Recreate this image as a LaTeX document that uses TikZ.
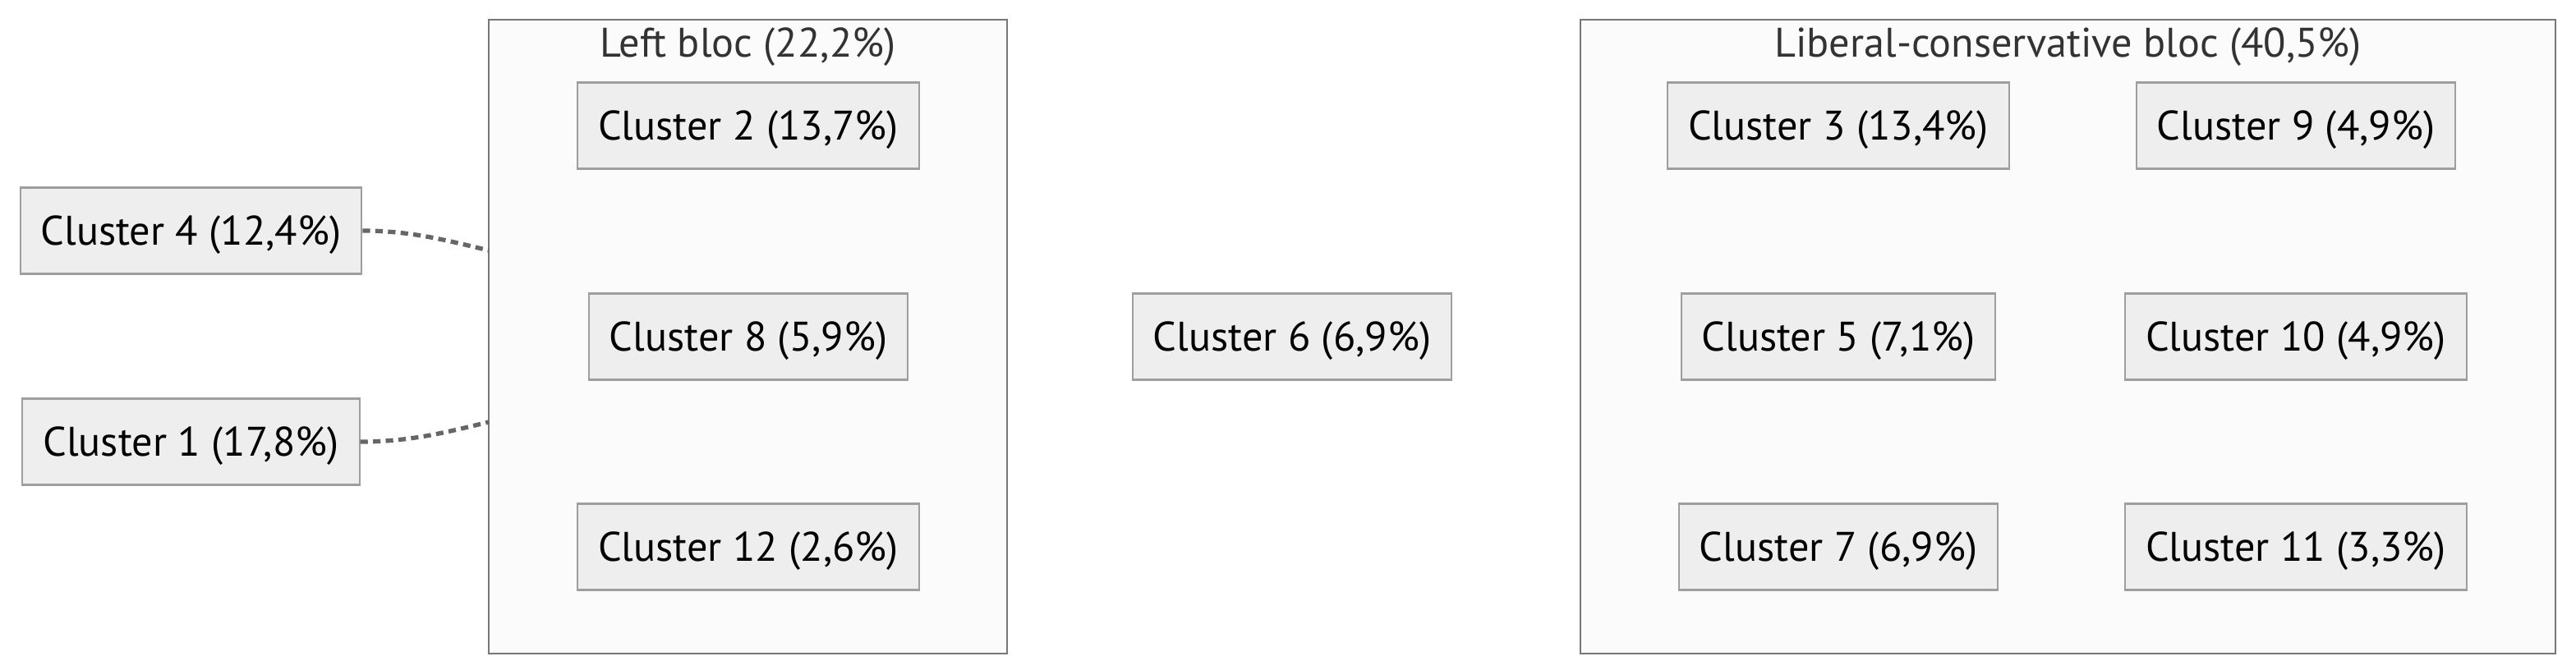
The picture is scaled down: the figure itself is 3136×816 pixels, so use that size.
\documentclass[tikz,border=0pt]{standalone}
\usepackage{fontspec}
\setmainfont{PT Sans}
\definecolor{boxfill}{HTML}{EEEEEE}
\definecolor{boxline}{HTML}{9E9E9E}
\definecolor{blocfill}{HTML}{FBFBFB}
\definecolor{blocline}{HTML}{777777}
\definecolor{linkcol}{HTML}{666666}
\definecolor{titlecol}{HTML}{333333}
\begin{document}
\begin{tikzpicture}[x=0.01cm,y=-0.01cm]
	
	% Styles for the boxes and blocs
	\tikzstyle{box}=[
	rectangle,
	draw=boxline,
	fill=boxfill,
	line width=0.6pt,
	inner xsep=0.25cm,
	text height=10pt,
	text depth=0pt,
	minimum height=1.05cm,
	font=\fontsize{14.3}{17}\selectfont
	]
	\tikzstyle{bloc}=[
	rectangle,
	draw=blocline,
	fill=blocfill,
	line width=0.6pt,
	minimum width=6.31cm,
	minimum height=7.72cm
	]
	\tikzstyle{bloctitle}=[
	text=titlecol,
	text height=10pt,
	text depth=0pt,
	font=\fontsize{14.3}{17}\selectfont
	]
	\tikzstyle{link}=[
	draw=linkcol,
	line width=1.5pt,
	dash pattern=on 2.6pt off 1.8pt
	]
	\useasboundingbox (0,0) rectangle (3136,816);
	
	% --- Blocs ---
	\node[bloc] (LB) at (910.5,410) {};
	\node[bloctitle] (LBT) at (910.5,52) {Left bloc (22,2\%)};
	\node[bloc, minimum width=11.87cm] (LCB) at (2517.5,410) {};
	\node[bloctitle] (LCBT) at (2517.5,52) {Liberal-conservative bloc (40,5\%)};
	
	% --- Left bloc ---
	\node[box] (C2) at (911, 153) {Cluster 2 (13,7\%)};
	\node[box] (C8) at (911, 410) {Cluster 8 (5,9\%)};
	\node[box] (C12) at (911, 666) {Cluster 12 (2,6\%)};
	
	% --- Outside ---
	\node[box] (C4) at (232.5, 281) {Cluster 4 (12,4\%)};
	\node[box] (C1) at (232.5, 538) {Cluster 1 (17,8\%)};
	\node[box] (C6) at (1573, 410) {Cluster 6 (6,9\%)};
	
	% --- Liberal-conservative bloc ---
	\node[box] (C3) at (2238, 153) {Cluster 3 (13,4\%)};
	\node[box] (C9) at (2795, 153) {Cluster 9 (4,9\%)};
	\node[box] (C5) at (2238, 410) {Cluster 5 (7,1\%)};
	\node[box] (C10) at (2795, 410) {Cluster 10 (4,9\%)};
	\node[box] (C7) at (2238, 666) {Cluster 7 (6,9\%)};
	\node[box] (C11) at (2795, 666) {Cluster 11 (3,3\%)};
	
	% links into the left bloc
	\coordinate (LB4) at (595,305);
	\coordinate (LB1) at (595,514);
	\draw[link] (C4.east) .. controls (500,281) and (545,293) .. (LB4);
	\draw[link] (C1.east) .. controls (500,538) and (545,526) .. (LB1);
\end{tikzpicture}
\end{document}
